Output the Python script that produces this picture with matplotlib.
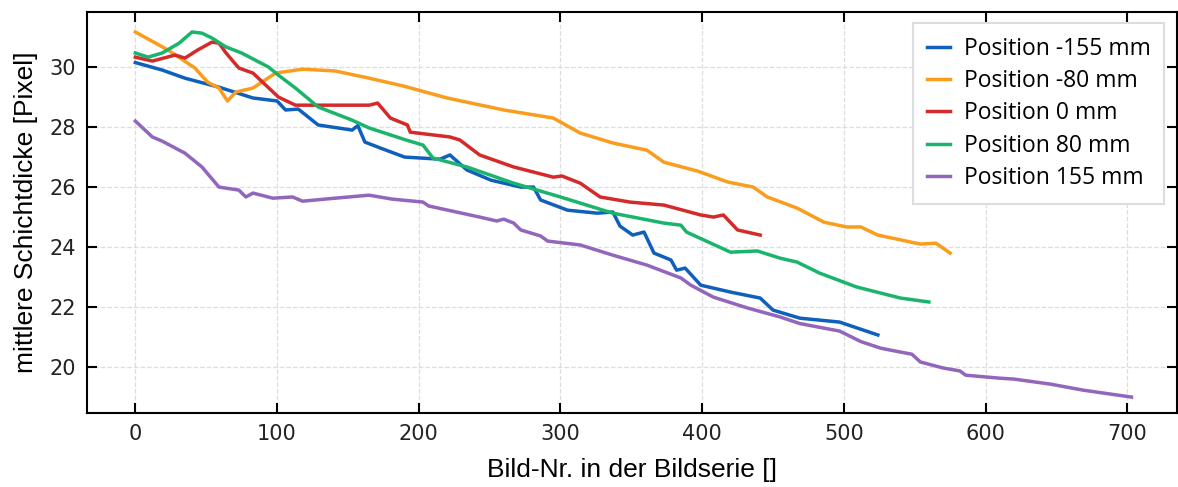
import matplotlib
matplotlib.use("Agg")
import matplotlib.pyplot as plt

# Position -155 mm
x_m155 = [0, 19, 35, 59, 83, 100, 106, 115, 129, 153, 157, 162, 173, 190, 215, 222, 234, 251, 272, 281,
          286, 305, 326, 337, 342, 351, 359, 366, 378, 382, 388, 399, 420, 441, 450, 469, 497, 524]
y_m155 = [30.15, 29.9, 29.63, 29.33, 28.97, 28.87, 28.57, 28.6, 28.07, 27.9, 28.05, 27.5, 27.3, 27.0, 26.93,
          27.07, 26.57, 26.23, 26.0, 26.0, 25.57, 25.23, 25.13, 25.17, 24.7, 24.4, 24.5, 23.8, 23.57, 23.23,
          23.3, 22.73, 22.5, 22.3, 21.9, 21.63, 21.5, 21.07]

# Position -80 mm
x_m80 = [0, 23, 42, 51, 59, 65, 71, 83, 99, 118, 141, 165, 189, 220, 260, 295, 314, 337, 361, 373, 397,
         418, 436, 446, 467, 486, 502, 512, 524, 554, 565, 575]
y_m80 = [31.17, 30.57, 29.97, 29.5, 29.3, 28.87, 29.17, 29.3, 29.8, 29.93, 29.87, 29.63, 29.37, 28.97,
         28.57, 28.3, 27.8, 27.47, 27.23, 26.83, 26.53, 26.17, 26.0, 25.67, 25.3, 24.83, 24.67, 24.67,
         24.4, 24.1, 24.13, 23.8]

# Position 0 mm
x_0 = [0, 12, 28, 35, 44, 54, 59, 64, 73, 83, 101, 113, 165, 171, 180, 192, 194, 222, 229, 243, 267,
       295, 301, 314, 328, 349, 373, 399, 408, 415, 425, 441]
y_0 = [30.33, 30.2, 30.4, 30.3, 30.57, 30.83, 30.8, 30.47, 29.97, 29.8, 29.0, 28.73, 28.73, 28.8, 28.3,
       28.07, 27.83, 27.67, 27.57, 27.07, 26.67, 26.33, 26.37, 26.13, 25.67, 25.5, 25.4, 25.07, 25.0,
       25.07, 24.57, 24.4]

# Position 80 mm
x_80 = [0, 9, 19, 31, 40, 47, 54, 64, 75, 94, 101, 113, 129, 153, 165, 191, 203, 210, 234, 267, 300,
        337, 373, 385, 389, 420, 439, 455, 467, 483, 509, 540, 560]
y_80 = [30.47, 30.33, 30.47, 30.8, 31.17, 31.13, 30.97, 30.67, 30.47, 30.0, 29.73, 29.3, 28.67, 28.23,
        27.97, 27.57, 27.4, 26.97, 26.67, 26.13, 25.67, 25.13, 24.8, 24.73, 24.5, 23.83, 23.87, 23.63,
        23.5, 23.13, 22.67, 22.3, 22.17]

# Position 155 mm
x_155 = [0, 12, 19, 35, 47, 59, 73, 78, 83, 97, 111, 118, 141, 165, 181, 203, 207, 243, 255, 260, 267,
         272, 286, 291, 314, 337, 361, 385, 392, 408, 432, 455, 469, 497, 512, 526, 540, 548, 554, 570,
         582, 586, 610, 620, 646, 669, 703]
y_155 = [28.2, 27.67, 27.53, 27.13, 26.67, 26.0, 25.9, 25.67, 25.8, 25.63, 25.67, 25.53, 25.63, 25.73,
         25.6, 25.5, 25.37, 25.0, 24.87, 24.93, 24.8, 24.57, 24.37, 24.2, 24.07, 23.73, 23.4, 22.97, 22.73,
         22.33, 21.97, 21.67, 21.45, 21.2, 20.85, 20.63, 20.5, 20.43, 20.17, 19.97, 19.87, 19.73, 19.63,
         19.6, 19.43, 19.23, 19.0]

labels = ["Position -155 mm", "Position -80 mm", "Position 0 mm", "Position 80 mm", "Position 155 mm"]
colors = ["#0f5fbd", "#fa9d1e", "#d42a2a", "#1bb46c", "#9266bb"]

fig = plt.figure(figsize=(11.78, 4.87), dpi=100)
ax = fig.add_axes([0.074, 0.152, 0.925, 0.823])

series = [(x_m155, y_m155), (x_m80, y_m80), (x_0, y_0), (x_80, y_80), (x_155, y_155)]
for (xs, ys), lab, col in zip(series, labels, colors):
    ax.plot(xs, ys, color=col, lw=2.5, label=lab, solid_joinstyle="round")

ax.set_xlim(-34, 735)
ax.set_ylim(18.47, 31.83)
ax.set_xticks([0, 100, 200, 300, 400, 500, 600, 700])
ax.set_yticks([20, 22, 24, 26, 28, 30])
ax.grid(True, color="#dddddd", linestyle="--", linewidth=0.9)
ax.tick_params(direction="in", length=7, width=1.5, top=True, right=True, labelsize=15,
               labelcolor="#222222", pad=8)
for s in ax.spines.values():
    s.set_linewidth(1.5)

ax.set_xlabel("Bild-Nr. in der Bildserie []", fontsize=19, family="Liberation Sans", labelpad=10)
ax.set_ylabel("mittlere Schichtdicke [Pixel]", fontsize=19, family="Liberation Sans", labelpad=8)

leg = ax.legend(loc="upper right", fancybox=False, framealpha=1, edgecolor="#dddddd",
                prop={"family": "Open Sans", "size": 16.5}, handlelength=1.0, handletextpad=0.6,
                labelspacing=0.36, borderpad=0.6, borderaxespad=0.3, bbox_to_anchor=(0.995, 0.99))
leg.get_frame().set_linewidth(1.5)

fig.savefig("out.png", dpi=100)
